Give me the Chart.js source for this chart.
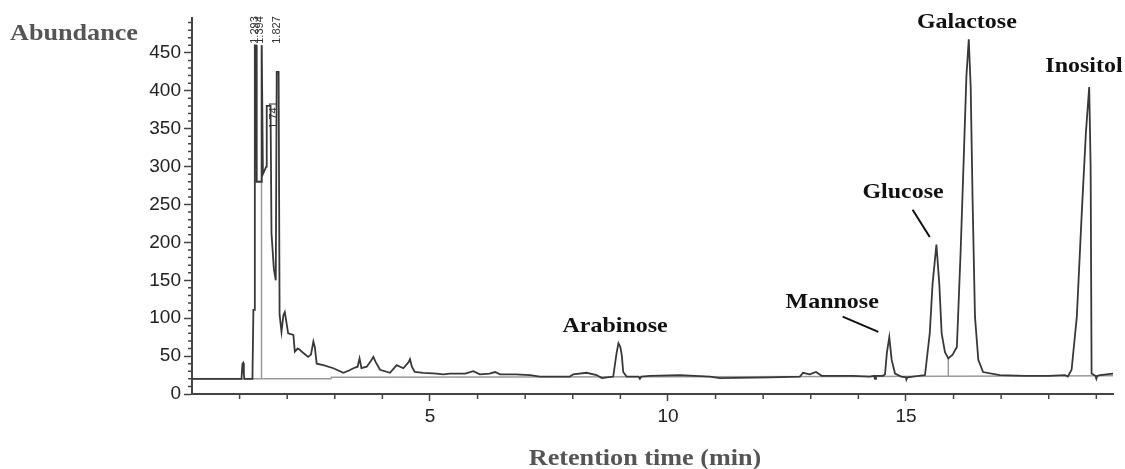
<!DOCTYPE html>
<html>
<head>
<meta charset="utf-8">
<script src="https://cdn.jsdelivr.net/npm/chart.js@4.4.1/dist/chart.umd.min.js"></script>
<style>
html,body{margin:0;padding:0;background:#fff;}
#wrap{width:1125px;height:469px;}
</style>
</head>
<body>
<div id="wrap"><canvas id="c" width="1125" height="469"></canvas></div>
<script>
// ---- data ----
const times = [0.00,1.04,1.06,1.075,1.09,1.10,1.27,1.29,1.31,1.32,1.35,1.36,1.45,1.46,1.47,1.49,1.56,1.57,1.65,1.67,1.72,1.76,1.78,1.82,1.84,1.88,1.92,1.95,1.97,2.02,2.13,2.16,2.22,2.27,2.34,2.44,2.50,2.55,2.58,2.62,2.76,2.97,3.18,3.30,3.39,3.48,3.52,3.56,3.67,3.76,3.81,3.86,3.95,4.16,4.30,4.44,4.55,4.58,4.62,4.68,4.86,5.14,5.28,5.42,5.74,5.91,6.05,6.25,6.37,6.47,6.80,7.10,7.31,7.94,8.01,8.29,8.50,8.61,8.85,8.92,8.96,9.00,9.03,9.06,9.13,9.38,9.41,9.44,9.62,10.25,10.88,11.09,12.14,12.77,12.84,12.98,13.11,13.23,13.89,14.24,14.33,14.35,14.37,14.52,14.56,14.60,14.65,14.70,14.77,14.90,15.00,15.01,15.03,15.40,15.50,15.56,15.64,15.70,15.75,15.82,15.89,15.98,16.07,16.15,16.22,16.27,16.32,16.36,16.40,16.45,16.52,16.62,16.97,17.50,18.00,18.34,18.40,18.48,18.59,18.69,18.78,18.85,18.88,18.90,18.98,19.00,19.02,19.08,19.35];
const abundance = [20,20,40,41,26,20,20,111,111,460,460,280,280,460,460,290,300,380,380,212,165,150,425,425,105,82,104,108,100,80,78,56,60,58,54,49,52,69,62,40,38,34,28,31,34,36,47,34,36,44,49,42,32,28,38,34,42,46,36,29,28,27,26,27,27,30,26,27,29,26,26,25,23,23,26,28,25,21,23,54,67,62,51,29,23,23,20,23,24,25,23,21,22,23,28,26,29,24,24,23,24,20,24,24,26,55,75,45,27,23,22,19,22,25,80,146,197,146,80,55,47,52,62,190,322,419,468,405,256,102,45,29,25,24,24,25,23,32,102,234,344,405,300,27,24,20,24,25,27];

// integration baseline and drop lines (null breaks the line)
const baseTimes  = [0, 2.92, 2.93, 14.0, 19.35, null, 1.46, 1.46, null, 15.89, 15.89];
const baseValues = [20, 20, 22, 23, 24, null, 460, 20, null, 47, 23];

// y ticks and x ticks
const yTickValues = [0,50,100,150,200,250,300,350,400,450];
const xTickValues = [5,10,15];

// annotations
const sugarNames = ['Arabinose','Mannose','Glucose','Galactose','Inositol'];
const sugarLabelTime = [8.89,13.45,14.94,16.28,18.74];
const sugarLabelValue = [82,113,259,483,425];
const leaderStart = [[13.67,102],[15.14,243]];
const leaderEnd   = [[14.42,82],[15.50,207]];

const rtLabels = ['1.293','1.394','1.827','1.741'];
const rtLabelTime = [1.315,1.42,1.785,1.72];
const rtLabelValue = [462,462,462,350];

const xMin = 0, xMax = 19.35, yMin = 0, yMax = 496;

const toXY = (xs, ys) => xs.map((x,i)=> x===null ? {x:NaN,y:NaN} : ({x:x, y:ys[i]}));

const annot = {
  id:'annot',
  afterDraw(chart){
    const {ctx, scales:{x,y}, chartArea:a} = chart;
    ctx.save();
    // minor ticks
    ctx.strokeStyle = '#444'; ctx.lineWidth = 1.5;
    ctx.beginPath();
    for(let t=1;t<=19;t++){
      if(t%5===0) continue;
      const px = x.getPixelForValue(t);
      ctx.moveTo(px, a.bottom); ctx.lineTo(px, a.bottom+5);
    }
    for(let v=10; v<=490; v+=10){
      if(v%50===0) continue;
      const py = y.getPixelForValue(v);
      ctx.moveTo(a.left, py); ctx.lineTo(a.left-4, py);
    }
    ctx.stroke();

    const stretchText = (txt, cx, cy, font, color, align, sx) => {
      ctx.save();
      ctx.font = font; ctx.fillStyle = color; ctx.textBaseline='alphabetic';
      ctx.translate(cx, cy); ctx.scale(sx,1);
      ctx.textAlign = align;
      ctx.fillText(txt, 0, 0);
      ctx.restore();
    };
    // sugar labels
    for(let i=0;i<sugarNames.length;i++){
      stretchText(sugarNames[i], x.getPixelForValue(sugarLabelTime[i]), y.getPixelForValue(sugarLabelValue[i]),
        'bold 22px "Liberation Serif"', '#111', 'center', 1.09);
    }
    // leader lines
    ctx.strokeStyle = '#111'; ctx.lineWidth = 2;
    ctx.beginPath();
    for(let i=0;i<leaderStart.length;i++){
      ctx.moveTo(x.getPixelForValue(leaderStart[i][0]), y.getPixelForValue(leaderStart[i][1]));
      ctx.lineTo(x.getPixelForValue(leaderEnd[i][0]), y.getPixelForValue(leaderEnd[i][1]));
    }
    ctx.stroke();
    // retention time labels (rotated)
    ctx.font = '11px "Liberation Sans"'; ctx.fillStyle = '#333';
    for(let i=0;i<rtLabels.length;i++){
      const px = x.getPixelForValue(rtLabelTime[i]);
      const py = y.getPixelForValue(rtLabelValue[i]);
      ctx.save();
      ctx.translate(px, py); ctx.rotate(-Math.PI/2);
      ctx.textAlign='left'; ctx.textBaseline='middle';
      ctx.fillText(rtLabels[i], 0, 0);
      ctx.restore();
    }
    // axis titles
    stretchText('Abundance', 10, 40, 'bold 24px "Liberation Serif"', '#555', 'left', 1.09);
    stretchText('Retention time (min)', 645, 465, 'bold 24px "Liberation Serif"', '#555', 'center', 1.09);
    ctx.restore();
  }
};

new Chart(document.getElementById('c'), {
  type:'line',
  data:{
    datasets:[
      {data: toXY(baseTimes, baseValues), borderColor:'#9a9a9a', borderWidth:1.5, pointRadius:0, spanGaps:false, tension:0, order:2},
      {data: toXY(times, abundance), borderColor:'#383838', borderWidth:1.8, pointRadius:0, tension:0, order:1}
    ]
  },
  options:{
    responsive:false, animation:false, devicePixelRatio:1,
    layout:{padding:{left:0, right:12, top:18, bottom:0}},
    plugins:{legend:{display:false}, tooltip:{enabled:false}},
    scales:{
      x:{type:'linear', min:xMin, max:xMax,
        afterFit(s){ s.height = 75; },
        afterBuildTicks(s){ s.ticks = xTickValues.map(v=>({value:v})); },
        border:{color:'#444', width:2},
        grid:{drawOnChartArea:false, drawTicks:true, tickLength:7, color:'#444', tickWidth:1.5},
        ticks:{color:'#222', font:{family:'"Liberation Sans"', size:19}, padding:4, maxRotation:0}
      },
      y:{type:'linear', min:yMin, max:yMax,
        afterFit(s){ s.width = 192; },
        afterBuildTicks(s){ s.ticks = yTickValues.map(v=>({value:v})); },
        border:{color:'#444', width:2},
        grid:{drawOnChartArea:false, drawTicks:true, tickLength:8, color:'#444', tickWidth:1.5},
        ticks:{color:'#222', font:{family:'"Liberation Sans"', size:19}, padding:3}
      }
    }
  },
  plugins:[annot]
});
</script>
</body>
</html>
